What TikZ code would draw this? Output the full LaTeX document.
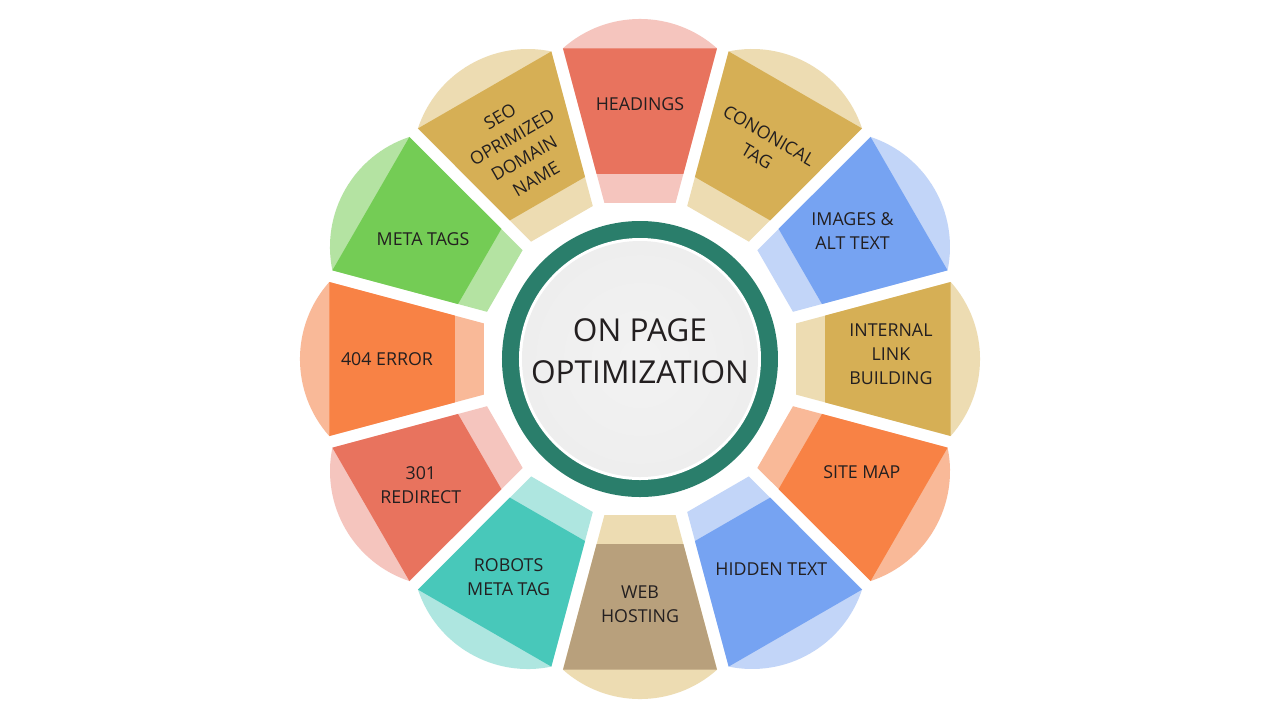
\documentclass[tikz,border=0pt]{standalone}
\usepackage{fontspec}
\setmainfont{Open Sans}
\usepackage{tikz}

\definecolor{redD}{HTML}{E8735E}
\definecolor{redL}{HTML}{F5C5BE}
\definecolor{goldD}{HTML}{D6AF55}
\definecolor{goldL}{HTML}{EDDCB2}
\definecolor{blueD}{HTML}{76A3F2}
\definecolor{blueL}{HTML}{C2D5F8}
\definecolor{orangeD}{HTML}{F88245}
\definecolor{orangeL}{HTML}{F9B998}
\definecolor{taupeD}{HTML}{B8A07C}
\definecolor{tealD}{HTML}{48C8BA}
\definecolor{tealL}{HTML}{AEE6E0}
\definecolor{greenD}{HTML}{74CC55}
\definecolor{greenL}{HTML}{B4E3A2}
\definecolor{ringC}{HTML}{2A7E6B}
\definecolor{txt}{HTML}{231F20}

\pgfdeclareradialshading{discshade}{\pgfpoint{0bp}{0bp}}{color(0bp)=(gray!10); color(30bp)=(gray!14); color(43bp)=(gray!24); color(48bp)=(gray!40); color(50bp)=(gray!20)}

\begin{document}
\begin{tikzpicture}[x=0.5pt, y=0.5pt,
  lbl/.style={text=txt, font=\fontsize{8.9}{12}\selectfont, align=center, inner sep=0pt}]
%\draw [help lines, step=20](-640,-360) grid (640,360);
\fill [white] (-640,-361) rectangle (640,359);
\useasboundingbox (-640,-361) rectangle (640,359);

% petals: light cap first, dark trapezoid on top
\foreach \a/\cd/\cl in {90/redD/redL, 60/goldD/goldL, 30/blueD/blueL, 0/goldD/goldL,
  -30/orangeD/orangeL, -60/blueD/blueL, -90/taupeD/goldL, -120/tealD/tealL,
  -150/redD/redL, 180/orangeD/orangeL, 150/greenD/greenL, 120/goldD/goldL}{
\begin{scope}[rotate=\a]
\fill [\cl] (156.1,-35.6) -- (310.7,-77) arc [start angle=-41.7, end angle=41.7, radius=115.8] -- (156.1,35.6) -- cycle;
\fill [\cd] (185.1,-43.4) -- (310.7,-77) -- (310.7,77) -- (185.1,43.4) -- cycle;
\end{scope}
}

% centre disc
\fill [ringC] (0,0) circle [radius=138];
\fill [white] (0,0) circle [radius=121];
\shade [shading=discshade] (0,0) circle [radius=118];
\node [text=txt, font=\fontsize{15.8}{21}\selectfont, align=center, inner sep=0pt] (title) at (0,8) {ON PAGE\\OPTIMIZATION};

\node [lbl] (headings) at (90:255) {HEADINGS};
\node [lbl, rotate=-30] (canonical) at (60:246) {CONONICAL\\TAG};
\node [lbl] (images) at (31:248) {IMAGES \&\\ALT TEXT};
\node [lbl] (internal) at (1:251) {INTERNAL\\LINK\\BUILDING};
\node [lbl] (sitemap) at (-27:249) {SITE MAP};
\node [lbl] (hidden) at (-58:248) {HIDDEN TEXT};
\node [lbl] (hosting) at (-90:245) {WEB\\HOSTING};
\node [lbl] (robots) at (-121:255) {ROBOTS\\META TAG};
\node [lbl] (redirect) at (-150:253) {301\\REDIRECT};
\node [lbl] (error) at (180:253) {404 ERROR};
\node [lbl] (metatags) at (151:248) {META TAGS};
\node [lbl, rotate=30] (domain) at (120:244) {SEO\\OPRIMIZED\\DOMAIN\\NAME};
\end{tikzpicture}
\end{document}
